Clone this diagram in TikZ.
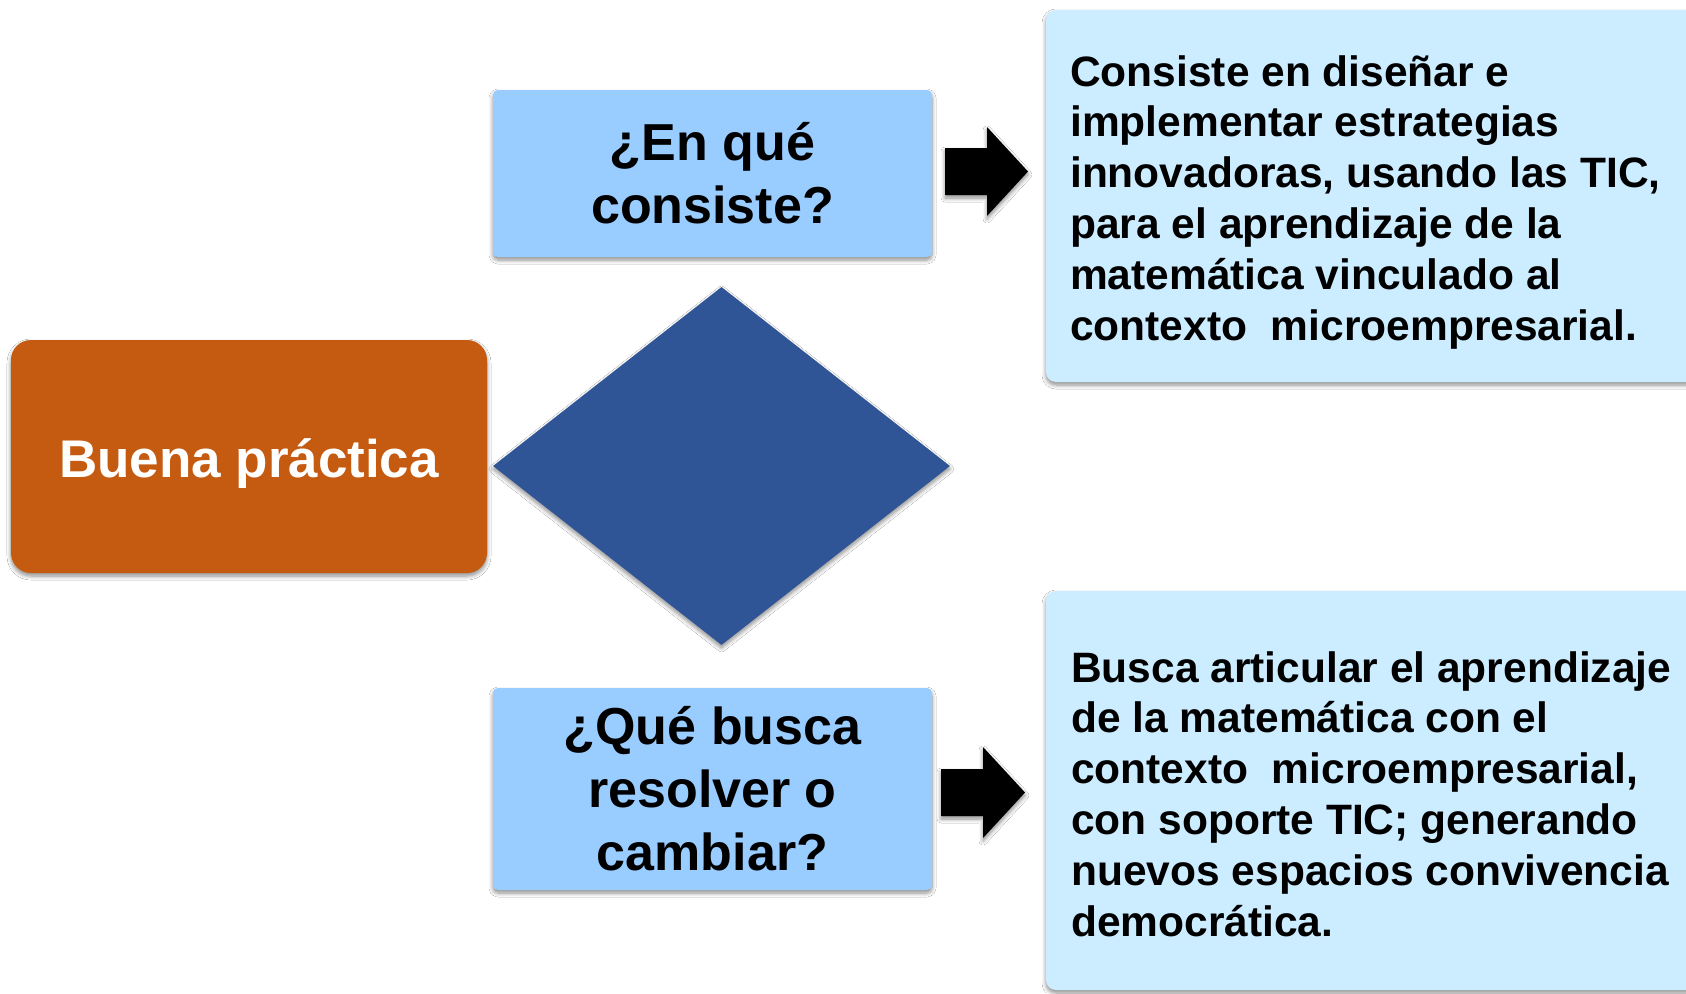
\documentclass[tikz,border=0pt]{standalone}
\usepackage{fontspec}
\setmainfont{Liberation Sans}
\usetikzlibrary{shadows.blur,shapes.geometric}
\definecolor{orangebox}{RGB}{197,90,17}
\definecolor{diamondblue}{RGB}{47,85,151}
\definecolor{qblue}{RGB}{153,204,255}
\definecolor{ablue}{RGB}{204,236,255}
\begin{document}
\begin{tikzpicture}[x=1pt,y=-1pt,
  shad/.style={blur shadow={shadow xshift=0pt,shadow yshift=-3pt,shadow blur steps=6,shadow blur radius=4pt,shadow opacity=45}},
  obox/.style={fill=orangebox, rounded corners=20pt, inner sep=0pt, shad, text=white,
     font=\fontsize{53}{60}\selectfont\bfseries, text height=45pt, text depth=4pt},
  qbox/.style={fill=qblue, rounded corners=5pt, inner sep=0pt, shad, align=center,
     font=\fontsize{52}{63}\selectfont\bfseries},
  abox/.style={fill=ablue, rounded corners=10pt, inner sep=0pt, shad},
  atext/.style={anchor=base west, inner sep=0pt, font=\fontsize{42.5}{50.8}\selectfont\bfseries},
  blockarrow/.style={fill=black, shad}
]
\useasboundingbox (0,0) rectangle (1686,993);
\clip (0,0) rectangle (1686,993);
\fill[white] (0,0) rectangle (1686,993);

% left box
\node[obox, minimum width=476pt, minimum height=233pt] (bp) at (249,456.5) {Buena práctica};

% diamond
\node[diamond, fill=diamondblue, inner sep=0pt, minimum width=457pt, minimum height=358pt, shad] (dia) at (721.5,466) {};

% question boxes
\node[qbox, minimum width=439pt, minimum height=167pt] (q1) at (712.5,173.5) {¿En qué\\consiste?};
\node[qbox, minimum width=439pt, minimum height=202pt] (q2) at (712.5,789) {¿Qué busca\\resolver o\\cambiar?};

% answer boxes
\node[abox, minimum width=690pt, minimum height=372pt] (a1) at (1391,196) {};
\node[abox, minimum width=690pt, minimum height=399pt] (a2) at (1391,790.5) {};

\node[atext] (a1t) at (1070,86) {\parbox[t]{620pt}{\raggedright Consiste en diseñar e\\implementar estrategias\\innovadoras, usando las TIC,\\para el aprendizaje de la\\matemática vinculado al\\contexto\ \ microempresarial.}};
\node[atext] (a2t) at (1071,682) {\parbox[t]{620pt}{\raggedright Busca articular el aprendizaje\\de la matemática con el\\contexto\ \ microempresarial,\\con soporte TIC; generando\\nuevos espacios convivencia\\democrática.}};

% block arrows
\coordinate (r1) at (945,171.5);
\coordinate (r2) at (941,792.5);
\fill[blockarrow] (r1) ++(0,-23.5) -- ++(42,0) -- ++(0,-21) -- ++(41,44.5) -- ++(-41,44.5) -- ++(0,-21) -- ++(-42,0) -- cycle;
\fill[blockarrow] (r2) ++(0,-23.5) -- ++(42,0) -- ++(0,-22) -- ++(42,45.5) -- ++(-42,45.5) -- ++(0,-22) -- ++(-42,0) -- cycle;
\end{tikzpicture}
\end{document}
